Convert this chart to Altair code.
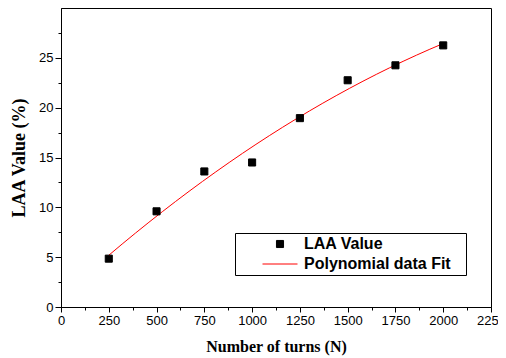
import altair as alt
import pandas as pd

turns = [250, 500, 750, 1000, 1250, 1500, 1750, 2000]
laa = [4.85, 9.6, 13.6, 14.5, 18.95, 22.75, 24.25, 26.25]
series_names = ["LAA Value", "Polynomial data Fit"]
x_ticks = list(range(0, 2251, 125))
y_ticks = [i * 2.5 for i in range(12)]

df = pd.DataFrame({"turns": turns, "laa": laa, "series": series_names[0]})

x_enc = alt.X("turns:Q", scale=alt.Scale(domain=[0, 2250], nice=False, zero=False),
              axis=alt.Axis(values=x_ticks, format="d", labelFlush=False,
                            labelExpr="datum.value % 250 === 0 ? datum.label : ''",
                            tickSize={"condition": {"test": "datum.value % 250 !== 0", "value": 3}, "value": 5},
                            title="Number of turns (N)", titlePadding=11))
y_enc = alt.Y("laa:Q", scale=alt.Scale(domain=[0, 30], nice=False),
              axis=alt.Axis(values=y_ticks,
                            labelExpr="datum.value % 5 === 0 ? datum.label : ''",
                            tickSize={"condition": {"test": "datum.value % 5 !== 0", "value": 3}, "value": 6},
                            title="LAA Value (%)", titlePadding=10))

leg = alt.Legend(title=None, orient="none", legendX=174, legendY=225,
                 padding=3, symbolOffset=24, strokeColor="black", fillColor="white",
                 labelFont="Liberation Sans", labelFontSize=16, labelFontWeight="bold",
                 labelColor="black", symbolStrokeWidth=1, labelOffset=6, rowPadding=4,
                 clipHeight=16,
                 labelExpr="datum.label + '\u2800'")

points = alt.Chart(df).mark_point(filled=True, opacity=1, strokeWidth=1).encode(
    x=x_enc, y=y_enc,
    shape=alt.Shape("series:O", scale=alt.Scale(domain=series_names, range=["square", "stroke"]), legend=leg),
    fill=alt.Fill("series:O", scale=alt.Scale(domain=series_names, range=["black", "black"]), legend=leg),
    stroke=alt.Stroke("series:O", scale=alt.Scale(domain=series_names, range=["black", "red"]), legend=leg),
    size=alt.Size("series:O", scale=alt.Scale(domain=series_names, range=[50, 1225]), legend=leg),
)

fit = alt.Chart(df).transform_regression(
    "turns", "laa", method="poly", order=2
).mark_line(color="red", strokeWidth=1).encode(x=x_enc, y=y_enc)

chart = alt.layer(fit, points).properties(
    width=430, height=299,
    autosize=alt.AutoSizeParams(type="none"),
    padding={"left": 53, "top": 0, "right": 7, "bottom": 49},
).configure_view(
    stroke="black", strokeWidth=1
).configure_axis(
    grid=False, domainColor="black", tickColor="black", domainWidth=1, tickWidth=1,
    labelFont="Liberation Sans", labelFontSize=13, labelColor="black", labelPadding=2,
    titleFont="Liberation Serif", titleFontWeight="bold", titleColor="black",
).configure_axisX(titleFontSize=16).configure_axisY(titleFontSize=18)

chart.save("out.html", embed_options={"renderer": "svg", "actions": False})
